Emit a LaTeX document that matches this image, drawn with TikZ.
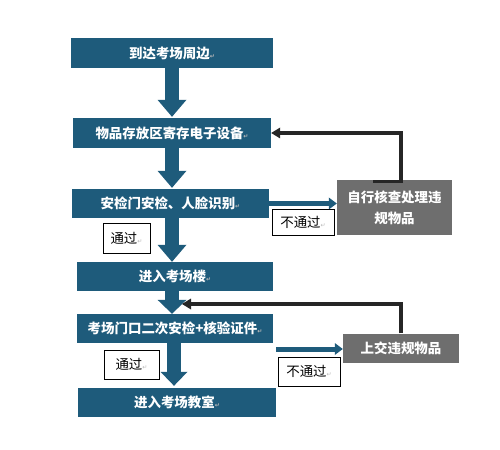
\documentclass[tikz,border=0pt]{standalone}
\usepackage{fontspec}
\setmainfont{Noto Sans CJK SC}
\newfontfamily\dvfont{DejaVu Sans}
\usetikzlibrary{arrows.meta}
\definecolor{bl}{HTML}{1E5B7B}
\definecolor{gr}{HTML}{6E6E6E}
\definecolor{dk}{HTML}{262626}
\newcommand{\retmark}{{\dvfont\fontsize{6}{6}\selectfont\color{gray!55}↵}}
\begin{document}
\begin{tikzpicture}[x=1bp,y=-1bp,
  box/.style={fill=bl, text=white, font=\fontsize{13.5}{15}\selectfont\bfseries, minimum height=29bp, inner sep=0pt},
  gbox/.style={fill=gr, text=white, font=\fontsize{13.5}{21}\selectfont\bfseries, inner sep=0pt, align=center},
  lbl/.style={draw=black, line width=0.6bp, fill=white, text=black, font=\fontsize{13.5}{15}\selectfont, inner sep=0pt},
  bigarrow/.style={draw=bl, line width=14bp, -{Triangle[width=29bp,length=17bp,line width=0pt]}},
  thinarrow/.style={draw=bl, line width=5bp, -{Triangle[width=12bp,length=8bp,line width=0pt]}},
  backarrow/.style={draw=dk, line width=3.5bp, -{Triangle[width=11bp,length=9bp,line width=0pt]}}]
\useasboundingbox (0,0) rectangle (500,450);
% main boxes
\node[box, minimum width=202bp, minimum height=30bp] (b1) at (172,53) {到达考场周边\retmark};
\node[box, minimum width=198bp, minimum height=30bp] (b2) at (172,133) {物品存放区寄存电子设备\retmark};
\node[box, minimum width=197bp] (b3) at (170.5,203.5) {安检门安检、人脸识别\retmark};
\node[box, minimum width=196bp] (b4) at (175,276.5) {进入考场楼\retmark};
\node[box, minimum width=196bp] (b5) at (175,328.5) {考场门口二次安检+核验证件\retmark};
\node[box, minimum width=198bp] (b6) at (177,402.5) {进入考场教室\retmark};
% grey boxes
\node[gbox, minimum width=115bp, minimum height=55bp] (g1) at (394.5,207.5) {自行核查处理违\\规物品};
\node[gbox, minimum width=116bp, minimum height=29bp] (g2) at (401,348) {上交违规物品};
% labels
\node[lbl, minimum width=47bp, minimum height=30bp] (l1) at (126.5,238) {通过\retmark};
\node[lbl, minimum width=62bp, minimum height=26bp] (l2) at (303,222) {不通过\retmark};
\node[lbl, minimum width=55bp, minimum height=29bp] (l3) at (131.5,364.5) {通过\retmark};
\node[lbl, minimum width=62bp, minimum height=29bp] (l4) at (309,371.5) {不通过\retmark};
% vertical flow arrows
\coordinate (ax) at (172,0);
\coordinate (ax5) at (174,0);
\draw[bigarrow, shorten >=1bp] (b1.south -| ax) -- (b2.north -| ax);
\draw[bigarrow, shorten >=1bp] (b2.south -| ax) -- (b3.north -| ax);
\draw[bigarrow] (b3.south -| ax) -- (b4.north -| ax);
\draw[bigarrow, -{Triangle[width=29bp,length=14bp,line width=0pt]}] (b4.south -| ax) -- (b5.north -| ax);
\draw[bigarrow, -{Triangle[width=27bp,length=14bp,line width=0pt]}, shorten >=2bp] (b5.south -| ax5) -- (b6.north -| ax5);
% horizontal blue arrows
\draw[thinarrow] (b3.east) -- (b3.east -| g1.west);
\coordinate (s2) at (276,349);
\draw[thinarrow] (s2) -- (s2 -| g2.west);
% feedback arrows
\coordinate (f1) at (373,181.5);
\coordinate (f1r) at (401,181.5);
\draw[backarrow] (f1) -- (f1r) |- (b2.east);
\coordinate (m2) at (182,304);
\draw[backarrow] (g2.north) |- (m2);
\end{tikzpicture}
\end{document}
